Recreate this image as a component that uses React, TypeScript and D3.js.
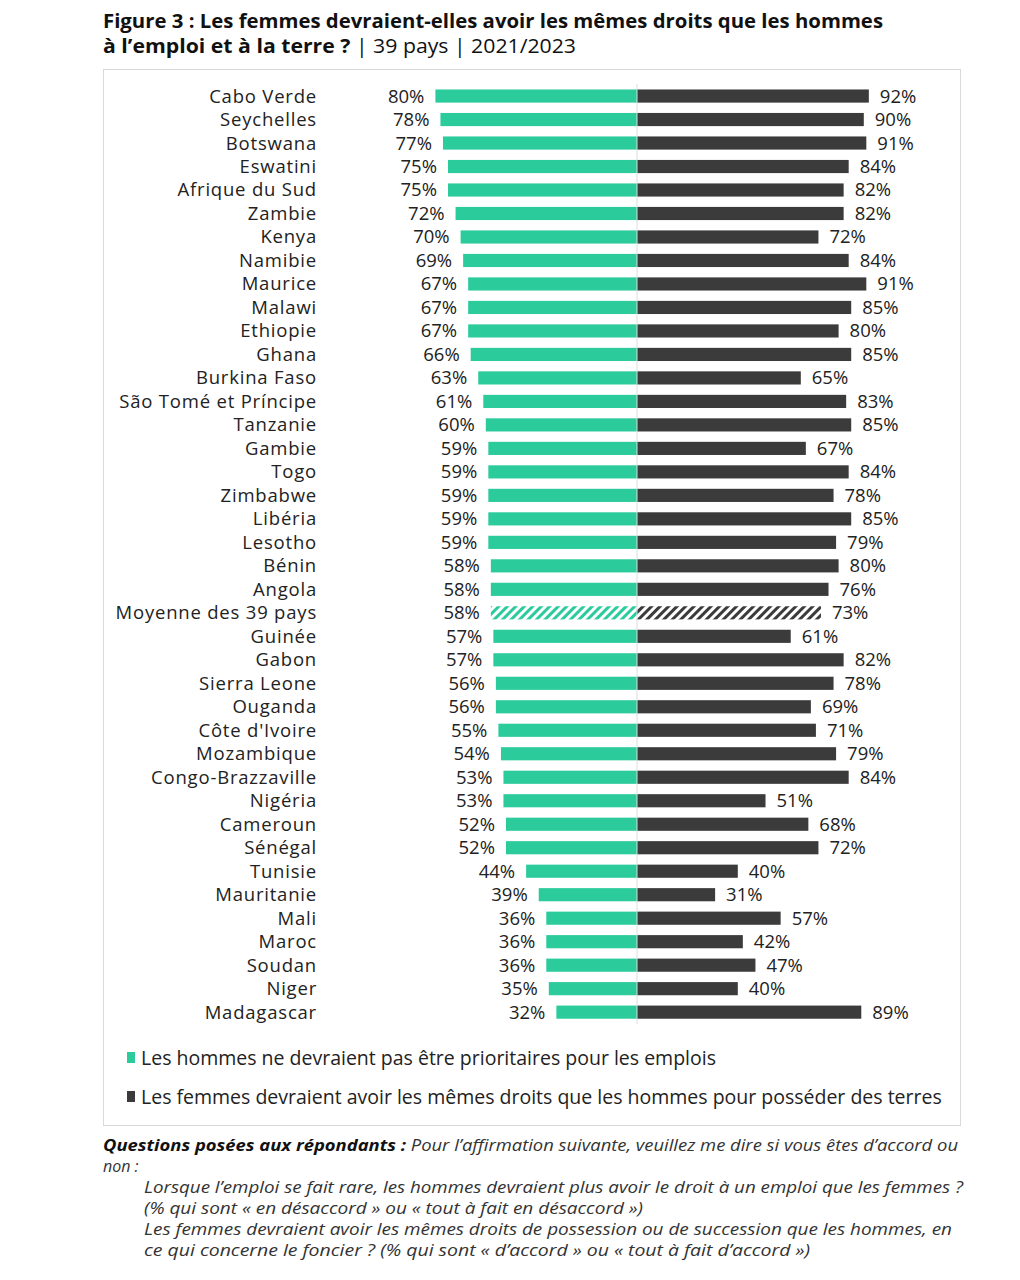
import React from 'react';
import * as d3 from 'd3';

const countries = [
  'Cabo Verde', 'Seychelles', 'Botswana', 'Eswatini', 'Afrique du Sud', 'Zambie', 'Kenya', 'Namibie',
  'Maurice', 'Malawi', 'Ethiopie', 'Ghana', 'Burkina Faso', 'São Tomé et Príncipe', 'Tanzanie', 'Gambie',
  'Togo', 'Zimbabwe', 'Libéria', 'Lesotho', 'Bénin', 'Angola', 'Moyenne des 39 pays', 'Guinée', 'Gabon',
  'Sierra Leone', 'Ouganda', "Côte d'Ivoire", 'Mozambique', 'Congo-Brazzaville', 'Nigéria', 'Cameroun',
  'Sénégal', 'Tunisie', 'Mauritanie', 'Mali', 'Maroc', 'Soudan', 'Niger', 'Madagascar',
];

const emploi = [
  80, 78, 77, 75, 75, 72, 70, 69, 67, 67, 67, 66, 63, 61, 60, 59, 59, 59, 59, 59, 58, 58, 58, 57, 57,
  56, 56, 55, 54, 53, 53, 52, 52, 44, 39, 36, 36, 36, 35, 32,
];

const terre = [
  92, 90, 91, 84, 82, 82, 72, 84, 91, 85, 80, 85, 65, 83, 85, 67, 84, 78, 85, 79, 80, 76, 73, 61, 82,
  78, 69, 71, 79, 84, 51, 68, 72, 40, 31, 57, 42, 47, 40, 89,
];

const averageLabel = 'Moyenne des 39 pays';

const legendLabels = [
  'Les hommes ne devraient pas être prioritaires pour les emplois',
  'Les femmes devraient avoir les mêmes droits que les hommes pour posséder des terres',
];

// footnote lines: [text, x, baseline, target width or 0]
const notes: [string, number, number, number][] = [
  ['non :', 103, 1172, 0],
  ['Lorsque l’emploi se fait rare, les hommes devraient plus avoir le droit à un emploi que les femmes ?', 144, 1193, 819],
  ['(% qui sont « en désaccord » ou « tout à fait en désaccord »)', 144, 1214, 499],
  ['Les femmes devraient avoir les mêmes droits de possession ou de succession que les hommes, en', 144, 1235, 808],
  ['ce qui concerne le foncier ? (% qui sont « d’accord » ou « tout à fait d’accord »)', 144, 1256, 666],
];

const TEAL = '#2ccb9c';
const DARK = '#3b3b3b';
const FONT = "'Open Sans', 'DejaVu Sans', sans-serif";

export default function App() {
  const center = 637;
  const y = d3.scaleBand<string>().domain(countries).range([84.3, 1023.9]).paddingInner(0.44).paddingOuter(0.22);
  const x = d3.scaleLinear().domain([0, 100]).range([0, 252]);
  const bh = y.bandwidth();

  return (
    <svg width={1020} height={1280} style={{ position: 'absolute', left: 0, top: 0, background: '#fff' }}
      fontFamily={FONT}>
      <defs>
        <pattern id="hatchTeal" width="6" height="6" patternUnits="userSpaceOnUse" patternTransform="rotate(45)">
          <rect width="6" height="6" fill="#ffffff" />
          <rect width="3" height="6" fill={TEAL} />
        </pattern>
        <pattern id="hatchDark" width="6" height="6" patternUnits="userSpaceOnUse" patternTransform="rotate(45)">
          <rect width="6" height="6" fill="#ffffff" />
          <rect width="3" height="6" fill={DARK} />
        </pattern>
      </defs>

      {/* title */}
      <text x={103} y={28} fontSize={20} fontWeight="bold" fill="#111" textLength={780} lengthAdjust="spacingAndGlyphs">
        Figure 3 : Les femmes devraient-elles avoir les mêmes droits que les hommes
      </text>
      <text x={103} y={53} fontSize={20} fill="#111" textLength={473} lengthAdjust="spacingAndGlyphs">
        <tspan fontWeight="bold">à l’emploi et à la terre ?</tspan>
        <tspan> | 39 pays | 2021/2023</tspan>
      </text>

      {/* frame */}
      <rect x={103.5} y={69.5} width={857} height={1056} fill="none" stroke="#d9d9d9" strokeWidth={1} />

      {countries.map((c, i) => {
        const cy = (y(c) as number) + bh / 2;
        const avg = c === averageLabel;
        const wl = x(emploi[i]);
        const wr = x(terre[i]);
        return (
          <g key={c}>
            <text x={317} y={cy} dy="0.35em" textAnchor="end" fontSize={18.5} letterSpacing={0.8} fill="#222">{c}</text>
            <rect x={center - wl} y={y(c)} width={wl} height={bh} fill={avg ? 'url(#hatchTeal)' : TEAL} />
            <rect x={center} y={y(c)} width={wr} height={bh} fill={avg ? 'url(#hatchDark)' : DARK} />
            <text x={center - wl - 11} y={cy} dy="0.35em" textAnchor="end" fontSize={18.5} fill="#222">
              {emploi[i]}%
            </text>
            <text x={center + wr + 11} y={cy} dy="0.35em" fontSize={18.5} fill="#222">{terre[i]}%</text>
          </g>
        );
      })}

      <line x1={center} x2={center} y1={84} y2={1024} stroke="#dcdcdc" strokeWidth={1} />

      {/* legend */}
      {legendLabels.map((l, i) => (
        <g key={l} transform={`translate(0, ${1058 + i * 39})`}>
          <rect x={127} y={-6} width={8} height={11} fill={i === 0 ? TEAL : DARK} />
          <text x={141} y={0} dy="0.35em" fontSize={19.5} fill="#222">{l}</text>
        </g>
      ))}

      {/* footnote */}
      <g fontSize={16} fontStyle="italic" fill="#333">
        <text x={103} y={1151} textLength={855} lengthAdjust="spacingAndGlyphs">
          <tspan fontWeight="bold" fill="#111">Questions posées aux répondants :</tspan>
          <tspan> Pour l’affirmation suivante, veuillez me dire si vous êtes d’accord ou</tspan>
        </text>
        {notes.map(([t, nx, ny, w]) => (
          w ? <text key={t} x={nx} y={ny} textLength={w} lengthAdjust="spacingAndGlyphs">{t}</text>
            : <text key={t} x={nx} y={ny}>{t}</text>
        ))}
      </g>
    </svg>
  );
}
